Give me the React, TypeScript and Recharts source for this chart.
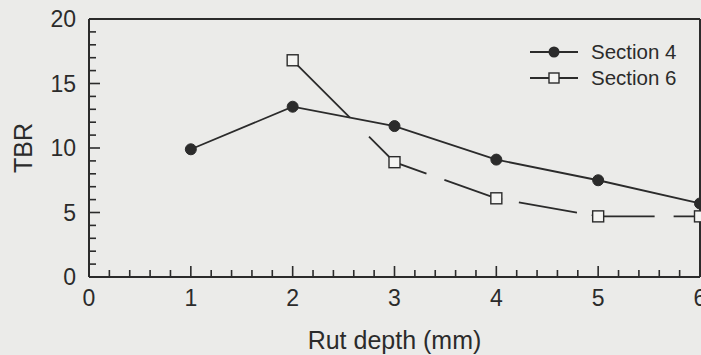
import React from "react"
import { Legend, Line, LineChart, ReferenceLine, XAxis, YAxis, Label } from "recharts"

const rutDepth = [1, 2, 3, 4, 5, 6]
const section4 = [9.9, 13.2, 11.7, 9.1, 7.5, 5.7]
const section6 = [null, 16.8, 8.9, 6.1, 4.7, 4.7]

const xMajorTicks = [0, 1, 2, 3, 4, 5, 6]
const yMajorTicks = [0, 5, 10, 15, 20]

// minor ticks: 5 per unit on x, 5 per major on y
const xTicks = xMajorTicks.flatMap((t, i) =>
  i === xMajorTicks.length - 1 ? [t] : [0, 1, 2, 3, 4].map((k) => +(t + k * 0.2).toFixed(1))
)
const yTicks = yMajorTicks.flatMap((t, i) =>
  i === yMajorTicks.length - 1 ? [t] : [0, 1, 2, 3, 4].map((k) => t + k)
)

const data = rutDepth.map((x, i) => ({ x, s4: section4[i], s6: section6[i] }))

const INK = "#2b2b2b"
const FONT = "'Liberation Sans', Arial, sans-serif"
const TICK_MARGIN = 13

const XTick = (props: any) => {
  const { x, y, payload } = props
  const v = payload.value
  const major = xMajorTicks.includes(v)
  const axisY = y - TICK_MARGIN
  return (
    <g>
      <line x1={x} x2={x} y1={axisY} y2={axisY - (major ? 11 : 7)} stroke={INK} strokeWidth={1.6} />
      {major && (
        <text x={x} y={y} dy="0.71em" textAnchor="middle" fontSize={23} fontFamily={FONT} fill={INK}>
          {v}
        </text>
      )}
    </g>
  )
}

const YTick = (props: any) => {
  const { x, y, payload } = props
  const v = payload.value
  const major = yMajorTicks.includes(v)
  const axisX = x + TICK_MARGIN
  return (
    <g>
      <line x1={axisX} x2={axisX + (major ? 11 : 7)} y1={y} y2={y} stroke={INK} strokeWidth={1.6} />
      {major && (
        <text x={x} y={y} dy="0.355em" textAnchor="end" fontSize={23} fontFamily={FONT} fill={INK}>
          {v}
        </text>
      )}
    </g>
  )
}

const SquareDot = (props: any) => {
  const { cx, cy } = props
  if (cx == null || cy == null || props.value == null) return <g />
  return <rect x={cx - 5.5} y={cy - 5.5} width={11} height={11} fill="#f4f4f2" stroke={INK} strokeWidth={1.4} />
}

const renderLegend = () => (
  <svg width={176} height={56}>
    <line x1={5} x2={53} y1={14} y2={14} stroke={INK} strokeWidth={1.8} />
    <circle cx={29} cy={14} r={5.5} fill={INK} />
    <text x={66} y={14} dy="0.355em" fontSize={20.5} fontFamily={FONT} fill={INK}>Section 4</text>
    <line x1={5} x2={53} y1={40} y2={40} stroke={INK} strokeWidth={1.8} />
    <rect x={24} y={35} width={10} height={10} fill="#f4f4f2" stroke={INK} strokeWidth={1.4} />
    <text x={66} y={40} dy="0.355em" fontSize={20.5} fontFamily={FONT} fill={INK}>Section 6</text>
  </svg>
)

export default function App() {
  return (
    <div style={{ position: "fixed", left: 0, top: 0, width: 701, height: 355, background: "#ebebe9", overflow: "hidden" }}>
      <LineChart width={701} height={355} data={data} margin={{ top: 19, right: 1, bottom: 0, left: 0 }}>
        <XAxis
          dataKey="x"
          type="number"
          domain={[0, 6]}
          ticks={xTicks}
          interval={0}
          tickSize={0}
          tickMargin={TICK_MARGIN}
          tick={<XTick />}
          height={78}
          axisLine={{ stroke: INK, strokeWidth: 2 }}
          tickLine={false}
        >
          <Label
            content={({ viewBox }: any) => (
              <text
                x={viewBox.x + viewBox.width / 2}
                y={viewBox.y + 72}
                textAnchor="middle"
                fontSize={25}
                fontFamily={FONT}
                fill={INK}
              >
                Rut depth (mm)
              </text>
            )}
          />
        </XAxis>
        <YAxis
          type="number"
          domain={[0, 20]}
          ticks={yTicks}
          interval={0}
          tickSize={0}
          tickMargin={TICK_MARGIN}
          tick={<YTick />}
          width={89}
          axisLine={{ stroke: INK, strokeWidth: 2 }}
          tickLine={false}
        >
          <Label
            content={({ viewBox }: any) => {
              const cx = viewBox.x + 23
              const cy = viewBox.y + viewBox.height / 2
              return (
                <text
                  x={cx}
                  y={cy}
                  dy="0.355em"
                  transform={`rotate(-90, ${cx}, ${cy})`}
                  textAnchor="middle"
                  fontSize={25}
                  fontFamily={FONT}
                  fill={INK}
                >
                  TBR
                </text>
              )
            }}
          />
        </YAxis>
        <ReferenceLine y={20} stroke={INK} strokeWidth={2} />
        <ReferenceLine x={6} stroke={INK} strokeWidth={2} />
        <Legend
          layout="horizontal"
          verticalAlign="middle"
          align="center"
          content={renderLegend}
          wrapperStyle={{ left: 525, top: 38, width: 176, height: 56 }}
        />
        <Line
          dataKey="s6"
          stroke={INK}
          strokeWidth={1.8}
          strokeDasharray="81 27 70 19 61 17 59 15 63 19 40"
          dot={<SquareDot />}
          connectNulls
          isAnimationActive={false}
        />
        <Line
          dataKey="s4"
          stroke={INK}
          strokeWidth={1.8}
          dot={{ r: 5.5, fill: INK, stroke: INK, strokeWidth: 1 }}
          isAnimationActive={false}
        />
      </LineChart>
    </div>
  )
}
